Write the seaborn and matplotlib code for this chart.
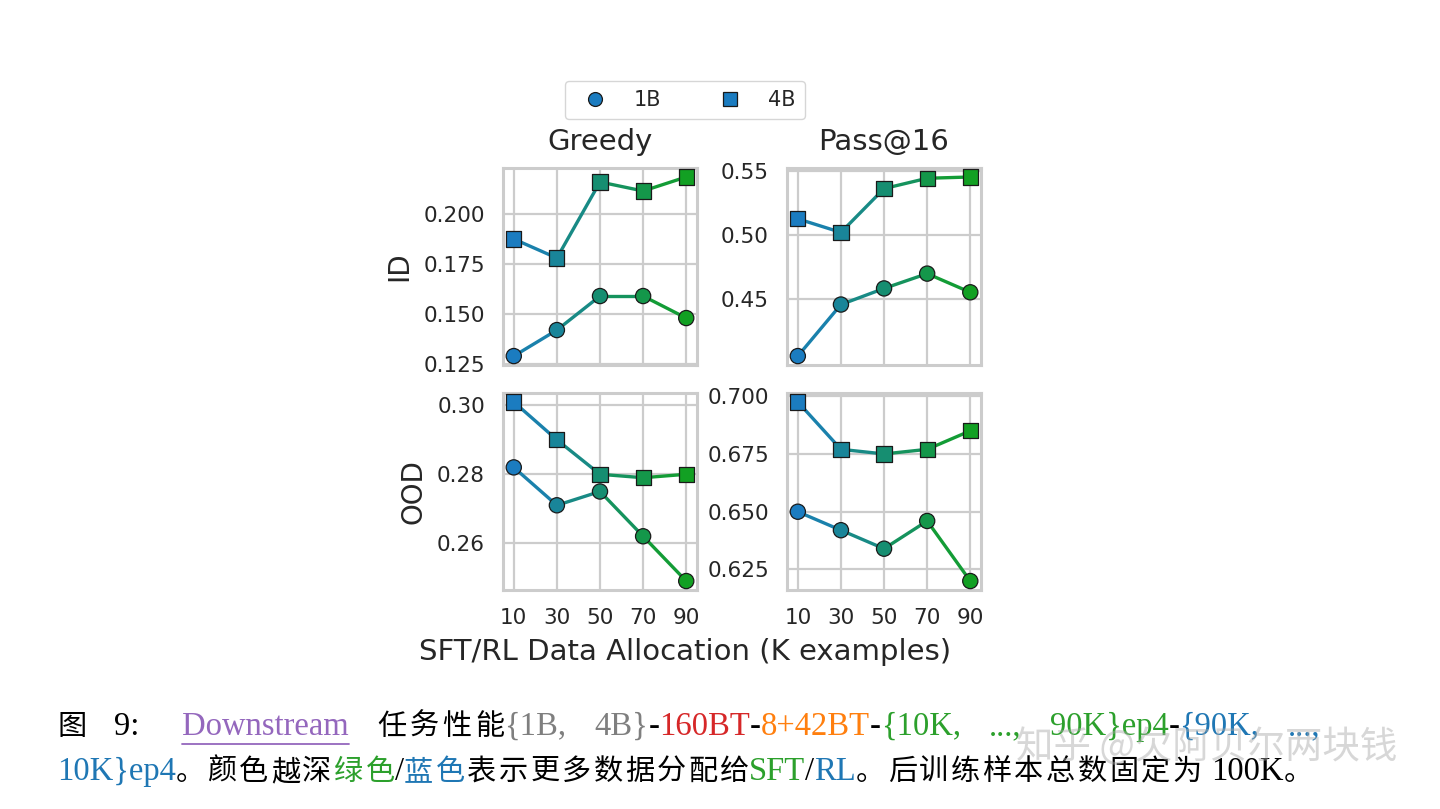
import matplotlib
matplotlib.use("Agg")
import matplotlib.pyplot as plt
from matplotlib.lines import Line2D
from matplotlib.ticker import FormatStrFormatter
import seaborn as sns

# data
alloc = [10, 30, 50, 70, 90]
greedy_id_1b = [0.129, 0.142, 0.159, 0.159, 0.148]
greedy_id_4b = [0.1875, 0.178, 0.216, 0.2115, 0.2185]
pass16_id_1b = [0.406, 0.446, 0.4585, 0.470, 0.4555]
pass16_id_4b = [0.5125, 0.502, 0.536, 0.544, 0.545]
greedy_ood_1b = [0.282, 0.271, 0.275, 0.262, 0.249]
greedy_ood_4b = [0.301, 0.290, 0.280, 0.279, 0.280]
pass16_ood_1b = [0.650, 0.642, 0.634, 0.646, 0.620]
pass16_ood_4b = [0.6975, 0.677, 0.675, 0.677, 0.685]

col_titles = ["Greedy", "Pass@16"]
row_labels = ["ID", "OOD"]
models = ["1B", "4B"]
yticks = {
    (0, 0): [0.125, 0.150, 0.175, 0.200],
    (0, 1): [0.45, 0.50, 0.55],
    (1, 0): [0.26, 0.28, 0.30],
    (1, 1): [0.625, 0.650, 0.675, 0.700],
}
yfmt = {(0, 0): "%.3f", (0, 1): "%.2f", (1, 0): "%.2f", (1, 1): "%.3f"}
panels = {
    (0, 0): (greedy_id_1b, greedy_id_4b),
    (0, 1): (pass16_id_1b, pass16_id_4b),
    (1, 0): (greedy_ood_1b, greedy_ood_4b),
    (1, 1): (pass16_ood_1b, pass16_ood_4b),
}

# caption pieces: (text, colour, is_cjk)
caption_line1 = [
    ("图", "black", True), ("  9:   ", "black", False), ("Downstream", "#9467bd", False),
    ("  ", "black", False), ("任务性能", "black", True),
    ("{1B,  4B}", "#7f7f7f", False), ("-", "black", False), ("160BT", "#d62728", False),
    ("-", "black", False), ("8+42BT", "#ff7f0e", False), ("-", "black", False),
    ("{10K,  ...,  90K}ep4", "#2ca02c", False), ("-", "black", False),
    ("{90K,  ...,", "#1f77b4", False),
]
caption_line2 = [
    ("10K}ep4", "#1f77b4", False), ("。颜色越深", "black", True), ("绿色", "#2ca02c", True),
    ("/", "black", False), ("蓝色", "#1f77b4", True), ("表示更多数据分配给", "black", True),
    ("SFT", "#2ca02c", False), ("/", "black", False), ("RL", "#1f77b4", False),
    ("。后训练样本总数固定为", "black", True), (" 100K", "black", False), ("。", "black", True),
]
watermark = "知乎 @欠阿贝尔两块钱"

sns.set_theme(style="whitegrid")
plt.rcParams["font.family"] = ["DejaVu Sans", "Noto Sans CJK SC"]

pt_colors = sns.blend_palette(["#1b7cc0", "#12a023"], len(alloc))
seg_colors = sns.blend_palette(["#1b7cc0", "#12a023"], 2 * len(alloc) - 1)[1::2]
markers = {"1B": "o", "4B": "s"}

fig, axes = plt.subplots(2, 2, figsize=(14.4, 8.09), dpi=100)
fig.subplots_adjust(left=0.3493, right=0.6813, top=0.7923, bottom=0.2707,
                    wspace=0.464, hspace=0.142)

for (r, c), series in panels.items():
    ax = axes[r, c]
    for model, vals in zip(models, series):
        for i in range(len(alloc) - 1):
            sns.lineplot(x=alloc[i:i + 2], y=vals[i:i + 2], color=seg_colors[i],
                         lw=2.4, ax=ax, zorder=2)
        sns.scatterplot(x=alloc, y=vals, hue=alloc, palette=pt_colors, marker=markers[model],
                        s=120, edgecolor="#1a1a1a", linewidth=0.9, legend=False,
                        ax=ax, zorder=3)
    ax.set_xlim(5, 95)
    ax.set_xticks(alloc)
    ax.set_yticks(yticks[(r, c)])
    ax.yaxis.set_major_formatter(FormatStrFormatter(yfmt[(r, c)]))
    ax.tick_params(labelsize=15.5, colors="#262626", pad=7)
    ax.grid(color="#cccccc", lw=1.6)
    for sp in ax.spines.values():
        sp.set_visible(True)
        sp.set_color("#cccccc")
        sp.set_linewidth(2.2)
    if r == 0:
        ax.set_xticklabels([])
        ax.set_title(col_titles[c], fontsize=21, pad=13, color="#262626")
    if c == 0:
        ax.set_ylabel(row_labels[r], fontsize=20, color="#262626", labelpad=7)

fig.text(0.4757, 0.194, "SFT/RL Data Allocation (K examples)", ha="center", va="center",
         fontsize=21, color="#262626")

handles = [Line2D([], [], ls="none", marker=markers[m], markersize=10, markerfacecolor=pt_colors[0],
                  markeredgecolor="#1a1a1a", markeredgewidth=0.9) for m in models]
fig.legend(handles, models, loc="center", bbox_to_anchor=(0.4757, 0.8764), ncol=2,
           fontsize=15, columnspacing=2.3, handletextpad=0.85, frameon=True,
           edgecolor="#cccccc", borderpad=0.45)

# caption below the chart: tokens on a shared baseline, justified like the LaTeX source
cap = fig.add_axes([0, 0, 1, 1])
cap.axis("off")
fig.canvas.draw()
renderer = fig.canvas.get_renderer()
W, H = fig.bbox.width, fig.bbox.height
CJK_FONT = dict(fontsize=21, family=["Noto Sans CJK SC", "Liberation Serif"])
LAT_FONT = dict(fontsize=23.5, family=["Liberation Serif", "Noto Sans CJK SC"])


def tokenize(parts):
    toks = []
    carry = 0
    for txt, color, cjk in parts:
        if cjk:
            for ch in txt:
                toks.append([ch, color, True, carry])
                carry = 0
        else:
            for k, w in enumerate(txt.split(" ")):
                if k > 0:
                    carry += 1
                if w:
                    toks.append([w, color, False, carry])
                    carry = 0
    return toks


def write_line(parts, x_left, x_right, base_px):
    toks = tokenize(parts)
    arts, widths = [], []
    for txt, color, cjk, _ in toks:
        t = cap.text(0, 1 - base_px / H, txt, color=color, ha="left", va="baseline",
                     transform=cap.transAxes, **(CJK_FONT if cjk else LAT_FONT))
        arts.append(t)
        widths.append(t.get_window_extent(renderer).width)
    weights = [0.0]
    for i in range(1, len(toks)):
        if toks[i][3] > 0:
            weights.append(float(toks[i][3]))
        elif toks[i][2] and toks[i - 1][2]:
            weights.append(0.25)
        else:
            weights.append(0.0)
    extra = max(x_right - x_left - sum(widths), 0)
    total_w = sum(weights) or 1.0
    x = x_left
    for t, wd, g in zip(arts, widths, weights):
        x += extra * g / total_w
        t.set_x(x / W)
        x += wd
    return arts, toks


line1, toks1 = write_line(caption_line1, 57, 1320, 735)
line2, toks2 = write_line(caption_line2, 57, 1313, 780)

fig.text(0.838, 1 - 748 / 809, watermark, ha="center", va="center", fontsize=27,
         color="#a8a8a8", alpha=0.45, family=["Noto Sans CJK SC", "DejaVu Sans"])

# underline under "Downstream"
down = [a for a, tk in zip(line1, toks1) if tk[0] == "Downstream"][0]
bb = down.get_window_extent(renderer)
cap.add_line(Line2D([bb.x0 / W, bb.x1 / W], [1 - 744 / H] * 2, color="#9467bd", lw=1.3,
                    transform=cap.transAxes))

fig.savefig("out.png", dpi=100)
